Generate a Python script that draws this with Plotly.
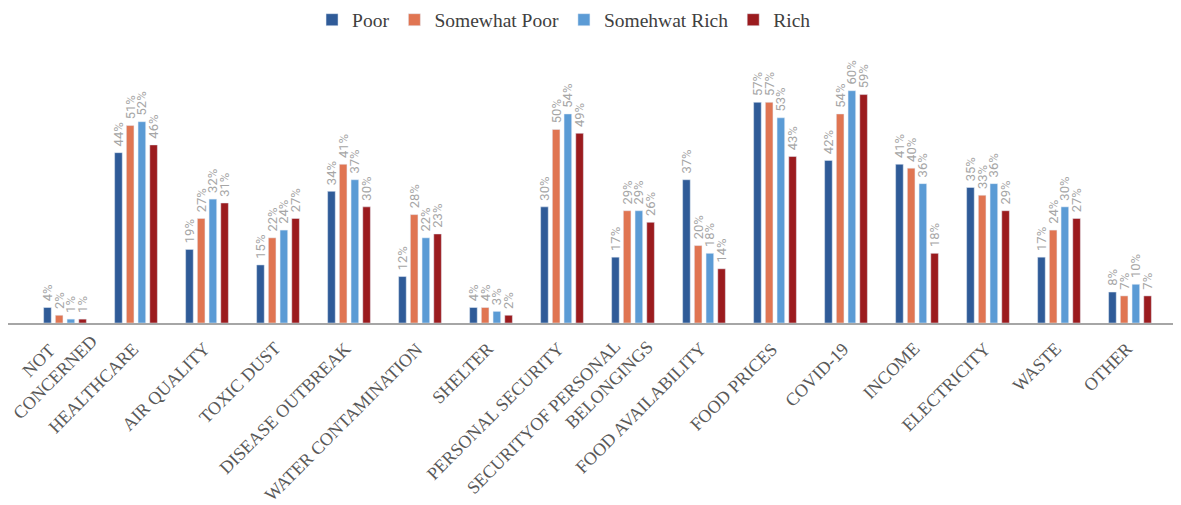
import plotly.graph_objects as go

categories = ["NOT CONCERNED", "HEALTHCARE", "AIR QUALITY", "TOXIC DUST", "DISEASE OUTBREAK",
              "WATER CONTAMINATION", "SHELTER", "PERSONAL SECURITY",
              "SECURITYOF PERSONAL BELONGINGS", "FOOD AVAILABILITY", "FOOD PRICES",
              "COVID-19", "INCOME", "ELECTRICITY", "WASTE", "OTHER"]
# how the category labels are wrapped in the reference
label_text = {"NOT CONCERNED": "NOT<br>CONCERNED",
              "SECURITYOF PERSONAL BELONGINGS": "SECURITYOF PERSONAL\u00a0\u00a0\u00a0\u00a0\u00a0<br>BELONGINGS"}
series_names = ["Poor", "Somewhat Poor", "Somehwat Rich", "Rich"]
poor = [4, 44, 19, 15, 34, 12, 4, 30, 17, 37, 57, 42, 41, 35, 17, 8]
somewhat_poor = [2, 51, 27, 22, 41, 28, 4, 50, 29, 20, 57, 54, 40, 33, 24, 7]
somewhat_rich = [1, 52, 32, 24, 37, 22, 3, 54, 29, 18, 53, 60, 36, 36, 30, 10]
rich = [1, 46, 31, 27, 30, 23, 2, 49, 26, 14, 43, 59, 18, 29, 27, 7]
colors = ["#2F5B98", "#E07552", "#5B9BD5", "#9B1B1E"]

FONT = "Liberation Serif"
LABEL_FONT = "Roboto"
fig = go.Figure()
for name, vals, col in zip(series_names, [poor, somewhat_poor, somewhat_rich, rich], colors):
    fig.add_trace(go.Bar(
        name=name, x=categories, y=vals, marker_color=col,
        text=[f"\u00a0{v}%" for v in vals], textposition="outside", textangle=-90,
        constraintext="none",
        textfont=dict(family=LABEL_FONT, size=13, color="#A6A6A6"), cliponaxis=False,
    ))

# category labels (rotated, anchored at their upper-right corner below each category)
for cat in categories:
    txt = label_text.get(cat, cat)
    if cat == "NOT CONCERNED":
        xs, ys, al = 39, 11, "center"
    elif cat == "SECURITYOF PERSONAL BELONGINGS":
        xs, ys, al = 26, 5.6, "right"
    else:
        xs, ys, al = 9, -13, "right"
    fig.add_annotation(x=cat, y=0, xref="x", yref="y", text=txt, showarrow=False,
                       textangle=-45, xanchor="right", yanchor="top", align=al,
                       xshift=xs, yshift=ys,
                       font=dict(family=FONT, size=18, color="#595959"))

fig.update_layout(
    width=1173, height=497,
    margin=dict(l=0, r=3, t=44, b=182, autoexpand=False),
    paper_bgcolor="white", plot_bgcolor="white",
    barmode="group", bargap=0.34, bargroupgap=0.35,
    font=dict(family=FONT, color="#595959"),
    legend=dict(orientation="h", xref="container", x=0.2592, xanchor="left",
                yref="paper", y=1.118, yanchor="middle",
                font=dict(family=FONT, size=19.5, color="#404040"),
                itemwidth=30, traceorder="normal"),
    xaxis=dict(range=[-0.803, 15.676], showline=True, linecolor="#A6A6A6",
               linewidth=1.5, ticks="", automargin=False, showticklabels=False,
               showgrid=False),
    yaxis=dict(range=[0, 70], visible=False, showgrid=False, automargin=False),
)
fig.write_html("out.html")
